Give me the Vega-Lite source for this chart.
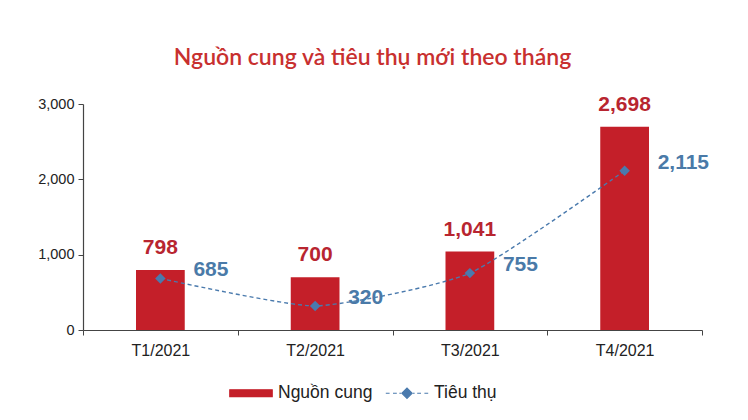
{
  "$schema": "https://vega.github.io/schema/vega-lite/v6.json",
  "width": 619,
  "height": 226,
  "padding": {"left": 37, "top": 46, "right": 20, "bottom": 5},
  "background": "white",
  "title": {
    "text": "Nguồn cung và tiêu thụ mới theo tháng",
    "font": "Lato",
    "fontSize": 23,
    "fontWeight": 600,
    "color": "#c8302f",
    "anchor": "middle",
    "dx": -20,
    "offset": 24
  },
  "data": {
    "values": [
      {"thang": "T1/2021", "nguon_cung": 798, "tieu_thu": 685},
      {"thang": "T2/2021", "nguon_cung": 700, "tieu_thu": 320},
      {"thang": "T3/2021", "nguon_cung": 1041, "tieu_thu": 755},
      {"thang": "T4/2021", "nguon_cung": 2698, "tieu_thu": 2115}
    ]
  },
  "encoding": {
    "x": {
      "field": "thang",
      "type": "nominal",
      "sort": null,
      "title": null,
      "scale": {"paddingInner": 0, "paddingOuter": 0},
      "axis": {
        "labelAngle": 0,
        "tickBand": "extent",
        "labelFontSize": 16,
        "labelPadding": 7,
        "tickSize": 5
      }
    }
  },
  "layer": [
    {
      "mark": {"type": "bar", "width": {"band": 0.315}, "color": "#c41f29"},
      "encoding": {
        "y": {
          "field": "nguon_cung",
          "type": "quantitative",
          "title": null,
          "scale": {"domain": [0, 3000]},
          "axis": {"values": [0, 1000, 2000, 3000], "format": ",d", "grid": false, "labelFontSize": 14.5, "labelPadding": 4, "tickSize": 5}
        },
        "color": {
          "datum": "Nguồn cung",
          "scale": {"domain": ["Nguồn cung", "Tiêu thụ"], "range": ["#c41f29", "#4a7aad"]},
          "legend": {
            "orient": "none",
            "legendX": 146,
            "legendY": 267,
            "title": null,
            "direction": "horizontal",
            "symbolSize": 1800,
            "labelFontSize": 17.5,
            "labelColor": "#222222",
            "labelOffset": 5,
            "columnPadding": 10,
            "symbolOpacity": 1,
            "encode": {
              "symbols": {
                "update": {
                  "shape": {"signal": "datum.value == 'Nguồn cung' ? 'M-1,-0.16H1V0.16H-1Z' : 'M-1,0H-0.82M-0.66,0H-0.48M-0.36,0H-0.28M-0.24,0L0,-0.24L0.24,0L0,0.24Z M0.28,0H0.36M0.48,0H0.66M0.82,0H1'"},
                  "fill": {"signal": "datum.value == 'Nguồn cung' ? '#c41f29' : '#4a7aad'"},
                  "stroke": {"signal": "datum.value == 'Nguồn cung' ? '#c41f29' : '#7b9cc0'"},
                  "strokeWidth": {"value": 1.2},
                  "opacity": {"value": 1}
                }
              }
            }
          }
        }
      }
    },
    {
      "mark": {"type": "text", "font": "Liberation Sans", "fontSize": 21, "fontWeight": "bold", "color": "#b82530", "baseline": "alphabetic", "dy": -16},
      "encoding": {
        "y": {"field": "nguon_cung", "type": "quantitative"},
        "text": {"field": "nguon_cung", "type": "quantitative", "format": ","}
      }
    },
    {
      "mark": {
        "type": "line",
        "strokeDash": [4, 3],
        "strokeWidth": 1.4,
        "interpolate": "cardinal",
        "tension": 0.45,
        "point": {"shape": "diamond", "filled": true, "size": 110, "opacity": 1}
      },
      "encoding": {
        "y": {"field": "tieu_thu", "type": "quantitative"},
        "color": {"datum": "Tiêu thụ"}
      }
    },
    {
      "mark": {"type": "text", "font": "Liberation Sans", "fontSize": 21, "fontWeight": "bold", "color": "#4a7aa8", "align": "left", "baseline": "middle", "dx": 33, "dy": -8},
      "encoding": {
        "y": {"field": "tieu_thu", "type": "quantitative"},
        "text": {"field": "tieu_thu", "type": "quantitative", "format": ","}
      }
    }
  ],
  "config": {
    "view": {"stroke": null},
    "font": "Liberation Sans",
    "axis": {
      "labelFont": "Liberation Sans",
      "labelColor": "#222222",
      "domainColor": "#444444",
      "tickColor": "#444444",
      "domainWidth": 1.2
    },
    "legend": {"labelFont": "Liberation Sans"}
  }
}
